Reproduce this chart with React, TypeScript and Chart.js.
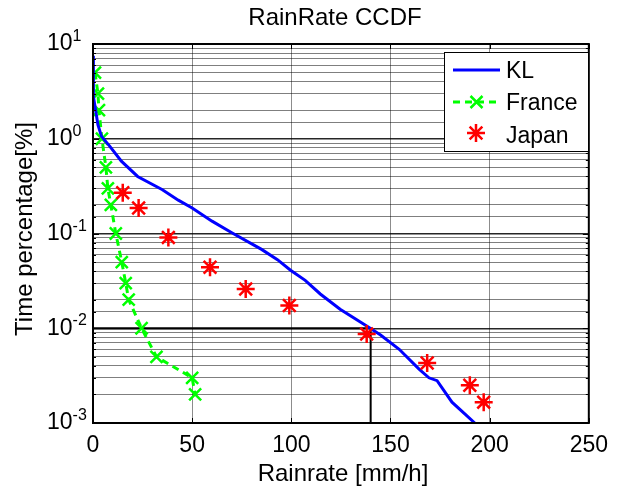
import React, { useEffect, useRef } from 'react';
import { Chart, registerables } from 'chart.js';

Chart.register(...registerables);

// ---- Data ----
const klRate = [0, 0.2, 1, 2.5, 4.3, 8.5, 14.3, 22.5, 35, 43, 50, 60, 70, 85, 93, 99.6, 107, 114.6, 124.6, 137.8, 145, 154.4, 164.4, 169.4, 173.5, 181, 187.6, 192.5];
const klPct = [7.5, 2.8, 2.2, 1.4, 1.06, 0.83, 0.58, 0.4, 0.29, 0.225, 0.186, 0.135, 0.102, 0.068, 0.053, 0.041, 0.032, 0.023, 0.0159, 0.0106, 0.0085, 0.006, 0.0037, 0.003, 0.0028, 0.00166, 0.00124, 0.001];

const franceRate = [1, 2.5, 3, 4.5, 6.5, 7.5, 9, 11.5, 14.5, 16.5, 18, 24.5, 32, 50, 51.5];
const francePct = [5, 3, 2, 1, 0.5, 0.3, 0.2, 0.1, 0.05, 0.03, 0.02, 0.01, 0.005, 0.003, 0.002];

const japanRate = [15, 23, 38, 59, 77, 99, 138, 168.5, 190, 197];
const japanPct = [0.27, 0.186, 0.091, 0.044, 0.026, 0.0174, 0.0087, 0.0043, 0.0025, 0.00166];

const refRate = [0, 140, 140];
const refPct = [0.01, 0.01, 0.001];

const xTicks = [0, 50, 100, 150, 200, 250];
const yExponents = [1, 0, -1, -2, -3];

const titleText = 'RainRate CCDF';
const xLabel = 'Rainrate [mm/h]';
const yLabel = 'Time percentage[%]';
const legendNames = ['KL', 'France', 'Japan'];

const FONT = '"Liberation Sans", Arial, sans-serif';
const BLUE = '#0000ff';
const GREEN = '#00ff00';
const RED = '#ff0000';

const zip = (xs: number[], ys: number[]) => xs.map((x, i) => ({ x, y: ys[i] }));

const isDecade = (v: number) => {
  const l = Math.log10(v);
  return Math.abs(l - Math.round(l)) < 1e-6;
};

const drawCrossRot = (ctx: CanvasRenderingContext2D, x: number, y: number, r: number) => {
  ctx.beginPath();
  ctx.moveTo(x - r, y - r);
  ctx.lineTo(x + r, y + r);
  ctx.moveTo(x - r, y + r);
  ctx.lineTo(x + r, y - r);
  ctx.stroke();
};

const drawStar = (ctx: CanvasRenderingContext2D, x: number, y: number, r: number) => {
  const d = r * Math.SQRT1_2;
  ctx.beginPath();
  ctx.moveTo(x - r, y);
  ctx.lineTo(x + r, y);
  ctx.moveTo(x, y - r);
  ctx.lineTo(x, y + r);
  ctx.moveTo(x - d, y - d);
  ctx.lineTo(x + d, y + d);
  ctx.moveTo(x - d, y + d);
  ctx.lineTo(x + d, y - d);
  ctx.stroke();
};

const decorPlugin = {
  id: 'decor',
  beforeDraw(chart: any) {
    const ctx = chart.ctx;
    ctx.save();
    ctx.fillStyle = '#ffffff';
    ctx.fillRect(0, 0, chart.width, chart.height);
    ctx.restore();
  },
  afterDraw(chart: any) {
    const ctx: CanvasRenderingContext2D = chart.ctx;
    const { left, right, top, bottom } = chart.chartArea;
    const xs = chart.scales.x;
    const ys = chart.scales.y;
    ctx.save();

    // inward tick marks
    ctx.strokeStyle = '#000';
    ctx.lineWidth = 1;
    ctx.beginPath();
    xTicks.forEach((t) => {
      const px = Math.round(xs.getPixelForValue(t)) + 0.5;
      ctx.moveTo(px, bottom);
      ctx.lineTo(px, bottom - 5);
      ctx.moveTo(px, top);
      ctx.lineTo(px, top + 5);
    });
    ys.ticks.forEach((t: any) => {
      const py = Math.round(ys.getPixelForValue(t.value)) + 0.5;
      const len = isDecade(t.value) ? 6 : 3;
      ctx.moveTo(left, py);
      ctx.lineTo(left + len, py);
      ctx.moveTo(right, py);
      ctx.lineTo(right - len, py);
    });
    ctx.stroke();

    // axes box
    ctx.lineWidth = 2;
    ctx.strokeRect(left, top, right - left, bottom - top);

    // y tick labels 10^n
    ctx.fillStyle = '#000';
    yExponents.forEach((e) => {
      const py = ys.getPixelForValue(Math.pow(10, e));
      ctx.font = `23px ${FONT}`;
      ctx.textAlign = 'left';
      ctx.textBaseline = 'middle';
      ctx.fillText('10', 47, py);
      const w = ctx.measureText('10').width;
      ctx.font = `16px ${FONT}`;
      ctx.textBaseline = 'alphabetic';
      ctx.fillText(String(e), 47 + w, py - 3);
    });

    // title
    ctx.font = `24px ${FONT}`;
    ctx.textAlign = 'center';
    ctx.textBaseline = 'alphabetic';
    ctx.fillText(titleText, 335, 25);

    // x label
    ctx.fillText(xLabel, 343, 481);

    // y label
    ctx.save();
    ctx.translate(25, 229);
    ctx.rotate(-Math.PI / 2);
    ctx.textBaseline = 'middle';
    ctx.fillText(yLabel, 0, 0);
    ctx.restore();

    // legend
    const lx = 444, ly = 52, lw = 144, lh = 99;
    ctx.fillStyle = '#fff';
    ctx.fillRect(lx, ly, lw, lh);
    ctx.strokeStyle = '#000';
    ctx.lineWidth = 1;
    ctx.strokeRect(lx + 0.5, ly + 0.5, lw, lh);

    // KL
    ctx.strokeStyle = BLUE;
    ctx.lineWidth = 3;
    ctx.beginPath();
    ctx.moveTo(453, 70);
    ctx.lineTo(500, 70);
    ctx.stroke();
    // France
    ctx.strokeStyle = GREEN;
    ctx.setLineDash([7, 5]);
    ctx.beginPath();
    ctx.moveTo(453, 102);
    ctx.lineTo(500, 102);
    ctx.stroke();
    ctx.setLineDash([]);
    ctx.lineWidth = 2.5;
    drawCrossRot(ctx, 476.5, 102, 6);
    // Japan
    ctx.strokeStyle = RED;
    ctx.lineWidth = 2.5;
    drawStar(ctx, 476, 133, 9);

    ctx.fillStyle = '#000';
    ctx.font = `23px ${FONT}`;
    ctx.textAlign = 'left';
    ctx.textBaseline = 'alphabetic';
    ctx.fillText(legendNames[0], 506, 78);
    ctx.fillText(legendNames[1], 506, 110);
    ctx.fillText(legendNames[2], 506, 143);

    ctx.restore();
  },
};

export default function App() {
  const canvasRef = useRef<HTMLCanvasElement | null>(null);

  useEffect(() => {
    document.body.style.margin = '0';
    const canvas = canvasRef.current;
    if (!canvas) return;
    const chart = new Chart(canvas, {
      type: 'line',
      data: {
        datasets: [
          {
            label: legendNames[2],
            data: zip(japanRate, japanPct),
            showLine: false,
            borderColor: RED,
            backgroundColor: RED,
            pointStyle: 'star',
            pointRadius: 9,
            pointBorderWidth: 2.5,
            order: 0,
          },
          {
            label: legendNames[0],
            data: zip(klRate, klPct),
            borderColor: BLUE,
            borderWidth: 3,
            pointRadius: 0,
            tension: 0,
            order: 1,
          },
          {
            label: legendNames[1],
            data: zip(franceRate, francePct),
            borderColor: GREEN,
            backgroundColor: GREEN,
            borderWidth: 3,
            borderDash: [7, 5],
            pointStyle: 'crossRot',
            pointRadius: 8.5,
            pointBorderWidth: 2.5,
            order: 2,
          },
          {
            label: 'threshold',
            data: zip(refRate, refPct),
            borderColor: '#000',
            borderWidth: 2,
            pointRadius: 0,
            order: 3,
          },
        ],
      },
      options: {
        responsive: false,
        animation: false,
        layout: { padding: { left: 0, right: 22, top: 44, bottom: 0 } },
        plugins: {
          legend: { display: false },
          title: { display: false },
          tooltip: { enabled: false },
        },
        scales: {
          x: {
            type: 'linear',
            min: 0,
            max: 250,
            afterFit: (s: any) => {
              s.height = 65;
            },
            afterBuildTicks: (s: any) => {
              s.ticks = xTicks.map((v) => ({ value: v }));
            },
            ticks: {
              stepSize: 50,
              color: '#000',
              padding: 9,
              font: { family: FONT, size: 23 },
              maxRotation: 0,
            },
            grid: {
              drawTicks: false,
              color: (c: any) => {
                const v = c.tick?.value;
                return v === 0 || v === 250 ? 'rgba(0,0,0,0)' : 'rgba(0,0,0,0.45)';
              },
              lineWidth: 1,
            },
            border: { display: false },
          },
          y: {
            type: 'logarithmic',
            min: 0.001,
            max: 10,
            afterFit: (s: any) => {
              s.width = 93;
            },
            ticks: { display: false, autoSkip: false },
            grid: {
              drawTicks: false,
              color: (c: any) => {
                const v = c.tick?.value;
                if (v == null) return 'rgba(0,0,0,0.5)';
                return isDecade(v) ? 'rgba(0,0,0,0.85)' : 'rgba(0,0,0,0.5)';
              },
              lineWidth: (c: any) => {
                const v = c.tick?.value;
                return v != null && isDecade(v) ? 1.5 : 1;
              },
            },
            border: { display: false },
          },
        },
      },
      plugins: [decorPlugin],
    } as any);
    return () => chart.destroy();
  }, []);

  return (
    <div style={{ width: 617, height: 488, position: 'relative' }}>
      <canvas ref={canvasRef} width={617} height={488} style={{ display: 'block' }} />
    </div>
  );
}
